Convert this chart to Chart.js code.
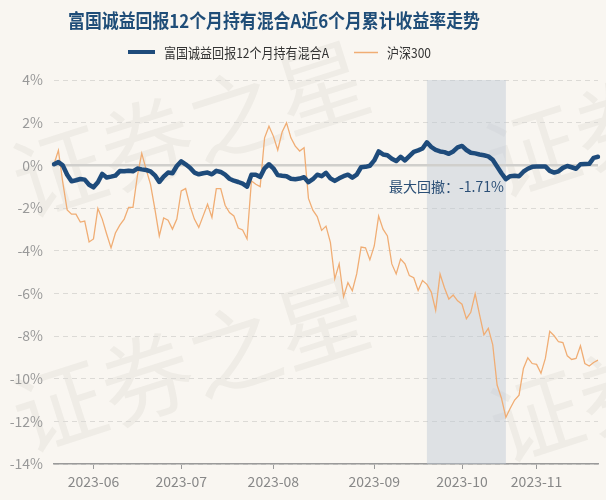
<!DOCTYPE html>
<html>
<head>
<meta charset="utf-8">
<script src="https://cdn.jsdelivr.net/npm/chart.js@4.4.1/dist/chart.umd.min.js"></script>
<style>
html,body{margin:0;padding:0;background:#f9f6f1;}
#wrap{width:606px;height:500px;position:relative;}
canvas{display:block;}
</style>
</head>
<body>
<div id="wrap"><canvas id="c" width="606" height="500"></canvas></div>
<script>
const titleText = '富国诚益回报12个月持有混合A近6个月累计收益率走势';
const fundName = '富国诚益回报12个月持有混合A';
const indexName = '沪深300';
const drawdownText = '最大回撤：-1.71%';
const watermarkText = '证券之星';

const dates = [
'2023-05-19','2023-05-22','2023-05-23','2023-05-24','2023-05-25','2023-05-26','2023-05-29','2023-05-30','2023-05-31',
'2023-06-01','2023-06-02','2023-06-05','2023-06-06','2023-06-07','2023-06-08','2023-06-09','2023-06-12','2023-06-13','2023-06-14','2023-06-15','2023-06-16','2023-06-19','2023-06-20','2023-06-21','2023-06-26','2023-06-27','2023-06-28','2023-06-29','2023-06-30',
'2023-07-03','2023-07-04','2023-07-05','2023-07-06','2023-07-07','2023-07-10','2023-07-11','2023-07-12','2023-07-13','2023-07-14','2023-07-17','2023-07-18','2023-07-19','2023-07-20','2023-07-21','2023-07-24','2023-07-25','2023-07-26','2023-07-27','2023-07-28','2023-07-31',
'2023-08-01','2023-08-02','2023-08-03','2023-08-04','2023-08-07','2023-08-08','2023-08-09','2023-08-10','2023-08-11','2023-08-14','2023-08-15','2023-08-16','2023-08-17','2023-08-18','2023-08-21','2023-08-22','2023-08-23','2023-08-24','2023-08-25','2023-08-28','2023-08-29','2023-08-30','2023-08-31',
'2023-09-01','2023-09-04','2023-09-05','2023-09-06','2023-09-07','2023-09-08','2023-09-11','2023-09-12','2023-09-13','2023-09-14','2023-09-15','2023-09-18','2023-09-19','2023-09-20','2023-09-21','2023-09-22','2023-09-25','2023-09-26','2023-09-27','2023-09-28',
'2023-10-09','2023-10-10','2023-10-11','2023-10-12','2023-10-13','2023-10-16','2023-10-17','2023-10-18','2023-10-19','2023-10-20','2023-10-23','2023-10-24','2023-10-25','2023-10-26','2023-10-27','2023-10-30','2023-10-31',
'2023-11-01','2023-11-02','2023-11-03','2023-11-06','2023-11-07','2023-11-08','2023-11-09','2023-11-10','2023-11-13','2023-11-14','2023-11-15','2023-11-16','2023-11-17','2023-11-20','2023-11-21'
];

const fundReturns = [
0.05,0.15,0.00,-0.44,-0.75,-0.70,-0.64,-0.67,-0.91,
-1.03,-0.79,-0.40,-0.57,-0.53,-0.48,-0.27,-0.28,-0.25,-0.28,-0.15,-0.19,-0.22,-0.28,-0.47,-0.78,-0.53,-0.34,-0.37,-0.03,
0.19,0.05,-0.11,-0.34,-0.42,-0.37,-0.34,-0.42,-0.26,-0.31,-0.44,-0.63,-0.72,-0.78,-0.86,-1.00,-0.44,-0.44,-0.54,-0.14,0.05,
-0.14,-0.46,-0.49,-0.51,-0.63,-0.65,-0.62,-0.56,-0.79,-0.65,-0.44,-0.51,-0.35,-0.61,-0.73,-0.61,-0.51,-0.44,-0.58,-0.44,-0.09,-0.07,-0.02,
0.23,0.65,0.51,0.47,0.31,0.20,0.40,0.23,0.43,0.63,0.70,0.79,1.08,0.86,0.72,0.65,0.62,0.54,0.65,0.84,
0.91,0.72,0.59,0.56,0.51,0.47,0.42,0.26,-0.05,-0.37,-0.65,-0.51,-0.49,-0.51,-0.30,-0.16,-0.07,
-0.06,-0.05,-0.05,-0.26,-0.34,-0.28,-0.12,-0.03,-0.09,-0.16,0.05,0.06,0.07,0.35,0.40
];

const indexReturns = [
0.05,0.70,-0.80,-2.09,-2.29,-2.29,-2.66,-2.61,-3.59,
-3.45,-2.02,-2.52,-3.22,-3.87,-3.17,-2.80,-2.52,-1.97,-1.97,-0.50,0.56,-0.19,-0.89,-2.05,-3.31,-2.47,-2.57,-2.99,-2.52,
-1.20,-1.09,-1.90,-2.52,-2.91,-2.37,-1.82,-2.44,-1.09,-1.09,-1.87,-2.21,-2.37,-2.94,-3.03,-3.45,-0.73,-0.89,-1.00,1.29,1.83,
1.37,0.72,1.56,1.99,1.29,0.90,0.67,0.83,-1.55,-2.10,-2.40,-3.05,-2.85,-3.61,-5.32,-4.62,-6.16,-5.50,-5.88,-5.09,-3.83,-3.87,-4.43,
-3.78,-2.38,-2.99,-3.31,-4.62,-5.09,-4.39,-4.62,-5.17,-5.27,-5.87,-5.40,-5.58,-5.94,-6.80,-5.10,-5.74,-6.27,-6.08,-6.35,
-6.51,-7.19,-6.89,-6.02,-7.00,-7.95,-7.64,-8.40,-10.30,-10.92,-11.81,-11.39,-11.00,-10.77,-9.52,-9.02,-9.29,
-9.33,-9.75,-9.05,-7.78,-7.99,-8.27,-8.31,-8.93,-9.10,-9.05,-8.46,-9.29,-9.41,-9.24,-9.13
];

const monthTicks = ['2023-06','2023-07','2023-08','2023-09','2023-10','2023-11'];
const drawdownStart = '2023-09-19';
const drawdownEnd = '2023-10-23';

const BLUE = '#1e4b7b';
const ORANGE = '#f0ad74';
const FONT = '"Noto Sans CJK SC","Noto Sans",sans-serif';

const extras = {
  id: 'extras',
  beforeDraw(chart) {
    const {ctx} = chart;
    ctx.save();
    ctx.fillStyle = 'rgba(110,100,90,0.065)';
    ctx.font = '92px ' + FONT;
    ctx.textAlign = 'left';
    ctx.textBaseline = 'middle';
    [[15, 185], [15, 420], [488, 165], [492, 430]].forEach(([px, py]) => {
      ctx.save();
      ctx.translate(px, py);
      ctx.rotate(-0.31);
      ctx.fillText(watermarkText, 0, 0);
      ctx.restore();
    });
    ctx.restore();
  },
  beforeDatasetsDraw(chart) {
    const {ctx, chartArea, scales} = chart;
    const x = scales.x, y = scales.y;
    const x0 = x.getPixelForValue(dates.indexOf(drawdownStart));
    const x1 = x.getPixelForValue(dates.indexOf(drawdownEnd));
    ctx.save();
    ctx.fillStyle = 'rgba(188,200,212,0.45)';
    ctx.fillRect(x0, chartArea.top, x1 - x0, chartArea.bottom - chartArea.top);
    const y0 = y.getPixelForValue(0);
    ctx.strokeStyle = '#d0cfcc';
    ctx.lineWidth = 2.5;
    ctx.beginPath();
    ctx.moveTo(chartArea.left, y0);
    ctx.lineTo(chartArea.right, y0);
    ctx.stroke();
    ctx.restore();
  },
  afterDraw(chart) {
    const {ctx, scales} = chart;
    ctx.save();
    ctx.fillStyle = '#1f4d78';
    ctx.font = 'bold 19px ' + FONT;
    ctx.textAlign = 'center';
    ctx.textBaseline = 'middle';
    ctx.fillText(titleText, 274, 21, 412);
    ctx.fillStyle = BLUE;
    ctx.fillRect(128, 50, 27, 4);
    ctx.fillStyle = '#333333';
    ctx.font = '13.5px ' + FONT;
    ctx.textAlign = 'left';
    ctx.fillText(fundName, 164, 53, 165);
    ctx.strokeStyle = ORANGE;
    ctx.lineWidth = 1.5;
    ctx.beginPath();
    ctx.moveTo(354, 52.5);
    ctx.lineTo(378, 52.5);
    ctx.stroke();
    ctx.fillStyle = '#333333';
    ctx.fillText(indexName, 387, 53, 44);
    const xr = scales.x.getPixelForValue(dates.indexOf(drawdownEnd));
    ctx.fillStyle = '#2b4f76';
    ctx.font = '14px ' + FONT;
    ctx.textAlign = 'right';
    ctx.fillText(drawdownText, xr - 2, 187, 116);
    ctx.restore();
  }
};

new Chart(document.getElementById('c'), {
  type: 'line',
  data: {
    labels: dates,
    datasets: [
      {label: fundName, data: fundReturns, borderColor: BLUE, backgroundColor: BLUE, borderWidth: 4.5, pointRadius: 0, tension: 0, borderJoinStyle: 'round', borderCapStyle: 'round'},
      {label: indexName, data: indexReturns, borderColor: ORANGE, backgroundColor: ORANGE, borderWidth: 1.3, pointRadius: 0, tension: 0}
    ]
  },
  options: {
    responsive: false,
    animation: false,
    events: [],
    layout: {padding: {top: 80, right: 8, left: 0, bottom: 0}},
    plugins: {legend: {display: false}, tooltip: {enabled: false}, title: {display: false}},
    scales: {
      x: {
        type: 'category',
        offset: false,
        afterFit(s) { s.height = 36; },
        grid: {display: true, drawOnChartArea: false, drawTicks: true, tickLength: 5, color: '#999999', lineWidth: 1},
        border: {display: true, color: '#9a9a9a', width: 1.5},
        ticks: {
          autoSkip: false, maxRotation: 0, minRotation: 0, padding: 4,
          color: '#888888', font: {size: 14, family: FONT},
          callback(v, i) {
            const m = dates[i].slice(0, 7);
            const prev = i > 0 ? dates[i - 1].slice(0, 7) : null;
            if (m !== prev && monthTicks.includes(m)) return m;
            return null;
          }
        }
      },
      y: {
        min: -14, max: 4,
        afterFit(s) { s.width = 54; },
        grid: {color: '#dcdad6', lineWidth: 1, drawTicks: false},
        border: {display: false, dash: [5, 4]},
        ticks: {stepSize: 2, padding: 11, color: '#999999', font: {size: 14, family: FONT}, callback: v => v + '%'}
      }
    }
  },
  plugins: [extras]
});
</script>
</body>
</html>
